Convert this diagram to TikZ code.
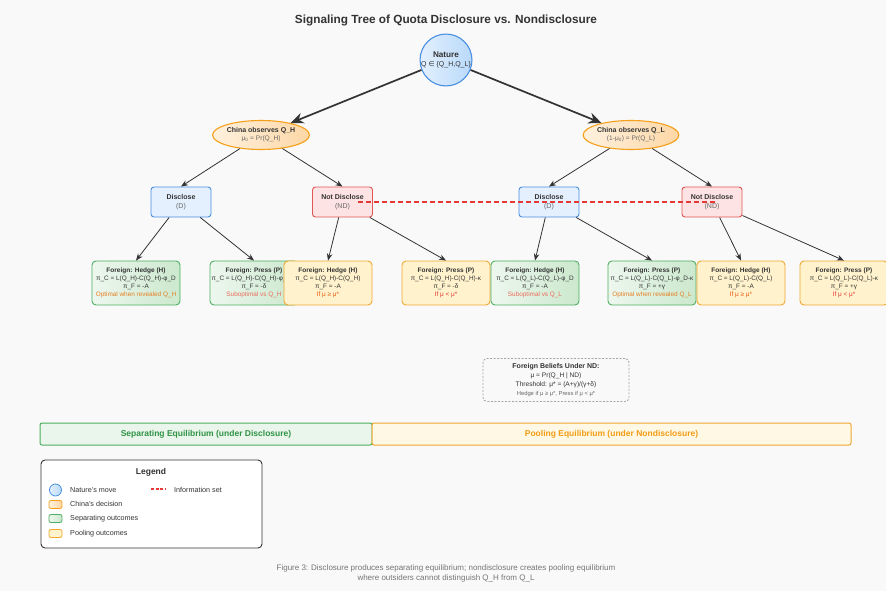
\documentclass[tikz,border=0pt]{standalone}
\usepackage{fontspec}
\setmainfont{Liberation Sans}
\newfontfamily\dejavu{DejaVu Sans}
\usetikzlibrary{arrows.meta,shapes.geometric,calc}

\definecolor{bg}{HTML}{F9F9F9}
\definecolor{txt}{HTML}{333333}
\definecolor{graytxt}{HTML}{666666}
\definecolor{natfillA}{HTML}{E3F0FE}
\definecolor{natfillB}{HTML}{B9D9FA}
\definecolor{blueline}{HTML}{4A90E2}
\definecolor{orfillA}{HTML}{FFF1DE}
\definecolor{orfillB}{HTML}{FDD7A6}
\definecolor{orline}{HTML}{F5A01A}
\definecolor{dfill}{HTML}{E4F0FD}
\definecolor{ndfill}{HTML}{FDE3E3}
\definecolor{ndline}{HTML}{E25555}
\definecolor{gfillA}{HTML}{EDF7EE}
\definecolor{gfillB}{HTML}{CBE8CD}
\definecolor{gline}{HTML}{4CAF60}
\definecolor{yfill}{HTML}{FFF2CC}
\definecolor{yline}{HTML}{F0A830}
\definecolor{infored}{HTML}{E53935}
\definecolor{optor}{HTML}{E67E22}
\definecolor{subred}{HTML}{EC6A5A}
\definecolor{ifor}{HTML}{E8590C}
\definecolor{sepfill}{HTML}{EAF5EB}
\definecolor{septxt}{HTML}{2E9445}
\definecolor{poolfill}{HTML}{FFF8E5}
\definecolor{pooltxt}{HTML}{F39C12}
\definecolor{arrowc}{HTML}{333333}

\tikzset{
  bigarrow/.style={draw=arrowc, line width=1.7pt, -{Stealth[length=13pt,width=11pt]}},
  smallarrow/.style={draw=arrowc, line width=0.8pt, -{Stealth[length=7pt,width=5.5pt]}},
  naturenode/.style={circle, draw=blueline, line width=1.1pt, inner sep=0pt, minimum size=46pt,
     left color=natfillA, right color=natfillB, align=center, text=txt, font=\fontsize{7}{8.5}\selectfont},
  chinanode/.style={ellipse, draw=orline, line width=1.1pt, inner sep=0pt, minimum width=90pt,
     minimum height=29pt, left color=orfillA, right color=orfillB, align=center, text=txt,
     font=\fontsize{7}{8.2}\selectfont},
  dnode/.style={draw=blueline, fill=dfill, line width=0.9pt, rounded corners=3pt, minimum width=60pt,
     minimum height=30pt, inner sep=0pt, align=center, text=txt, font=\fontsize{7}{9}\selectfont},
  ndnode/.style={dnode, draw=ndline, fill=ndfill},
  leafg/.style={draw=gline, left color=gfillA, right color=gfillB, line width=0.9pt, rounded corners=4pt,
     minimum width=88pt, minimum height=44pt, inner sep=0pt, align=center, text=txt,
     font=\fontsize{6.4}{8.1}\selectfont},
  leafy/.style={leafg, draw=yline, left color=yfill, right color=yfill},
  infoset/.style={draw=infored, line width=1.4pt, dash pattern=on 5pt off 3pt},
  bandsep/.style={draw=gline, fill=sepfill, line width=1pt, rounded corners=2pt, minimum height=22pt,
     inner sep=0pt, text=septxt, font=\bfseries\fontsize{8.5}{10}\selectfont},
  bandpool/.style={bandsep, draw=yline, fill=poolfill, text=pooltxt},
  legtext/.style={anchor=west, text=txt, inner sep=0pt, font=\fontsize{7.2}{8}\selectfont},
}

\newcommand\leafnode[8]{%
  \node[#2] (#1) at (#3,283) {{\bfseries\fontsize{6.5}{8.1}\selectfont #4}\\#5\\#6\\\textcolor{#8}{#7}};}

\begin{document}
\begin{tikzpicture}[x=1pt,y=-1pt]
\fill[bg] (0,0) rectangle (886,591);
\useasboundingbox (0,0) rectangle (886,591);

% title
\node[text=txt, font=\bfseries\fontsize{11.8}{14}\selectfont] (title) at (446,20) {Signaling Tree of Quota Disclosure vs. Nondisclosure};

% nature
\node[naturenode] (nature) at (446,60) {{\bfseries\fontsize{8.2}{8.5}\selectfont Nature}\\{\fontsize{7}{8}\selectfont Q {\dejavu ∈} \{Q\_H,Q\_L\}}};

% china
\node[chinanode] (chH) at (261,135) {{\bfseries China observes Q\_H}\\{\color{graytxt}\fontsize{6.6}{7}\selectfont μ\textsubscript{0} = Pr(Q\_H)}};
\node[chinanode] (chL) at (631,135) {{\bfseries China observes Q\_L}\\{\color{graytxt}\fontsize{6.6}{7}\selectfont (1-μ\textsubscript{0}) = Pr(Q\_L)}};

\draw[bigarrow] (nature) -- (chH);
\draw[bigarrow] (nature) -- (chL);

% decisions
\node[dnode] (d1) at (181,202) {\textbf{Disclose}\\{\color{graytxt}(D)}};
\node[ndnode] (nd1) at (342.5,202) {\textbf{Not Disclose}\\{\color{graytxt}(ND)}};
\node[dnode] (d2) at (549,202) {\textbf{Disclose}\\{\color{graytxt}(D)}};
\node[ndnode] (nd2) at (712,202) {\textbf{Not Disclose}\\{\color{graytxt}(ND)}};

\draw[smallarrow] (chH) -- (d1.north);
\draw[smallarrow] (chH) -- (nd1.north);
\draw[smallarrow] (chL) -- (d2.north);
\draw[smallarrow] (chL) -- (nd2.north);

% leaves
\leafnode{l1}{leafg}{136}{Foreign: Hedge (H)}{π\_C = L(Q\_H)-C(Q\_H)-φ\_D}{π\_F = -A}{Optimal when revealed Q\_H}{optor}
\leafnode{l2}{leafg}{254}{Foreign: Press (P)}{π\_C = L(Q\_H)-C(Q\_H)-φ\_D-κ}{π\_F = -δ}{Suboptimal vs Q\_H}{subred}
\leafnode{l3}{leafy}{328}{Foreign: Hedge (H)}{π\_C = L(Q\_H)-C(Q\_H)}{π\_F = -A}{If μ ≥ μ*}{ifor}
\leafnode{l4}{leafy}{446}{Foreign: Press (P)}{π\_C = L(Q\_H)-C(Q\_H)-κ}{π\_F = -δ}{If μ < μ*}{infored}
\leafnode{l5}{leafg}{535}{Foreign: Hedge (H)}{π\_C = L(Q\_L)-C(Q\_L)-φ\_D}{π\_F = -A}{Suboptimal vs Q\_L}{subred}
\leafnode{l6}{leafg}{652}{Foreign: Press (P)}{π\_C = L(Q\_L)-C(Q\_L)-φ\_D-κ}{π\_F = +γ}{Optimal when revealed Q\_L}{optor}
\leafnode{l7}{leafy}{741}{Foreign: Hedge (H)}{π\_C = L(Q\_L)-C(Q\_L)}{π\_F = -A}{If μ ≥ μ*}{ifor}
\leafnode{l8}{leafy}{844}{Foreign: Press (P)}{π\_C = L(Q\_L)-C(Q\_L)-κ}{π\_F = +γ}{If μ < μ*}{infored}

\draw[smallarrow] (d1) -- (l1.north);
\draw[smallarrow] (d1) -- (l2.north);
\draw[smallarrow] (nd1) -- (l3.north);
\draw[smallarrow] (nd1) -- (l4.north);
\draw[smallarrow] (d2) -- (l5.north);
\draw[smallarrow] (d2) -- (l6.north);
\draw[smallarrow] (nd2) -- (l7.north);
\draw[smallarrow] (nd2) -- (l8.north);

% information set
\coordinate (isA) at ($(nd1.center)+(15.5,0)$);
\coordinate (isB) at ($(nd2.center)+(5,0)$);
\draw[infoset] (isA) -- (isB);

% beliefs box
\node[draw=gray!70, dash pattern=on 2pt off 1.5pt, line width=0.8pt, rounded corners=4pt, fill=bg,
  minimum width=146pt, minimum height=43pt, inner sep=0pt, align=center, text=txt,
  font=\fontsize{6.6}{9}\selectfont] (beliefs) at (556,380)
  {{\bfseries\fontsize{7}{9}\selectfont Foreign Beliefs Under ND:}\\
   μ = Pr(Q\_H | ND)\\
   Threshold: μ* = (A+γ)/(γ+δ)\\
   {\color{graytxt}\fontsize{5.8}{9}\selectfont Hedge if μ ≥ μ*, Press if μ < μ*}};

% bands
\node[bandsep, minimum width=332pt] (sep) at (206,434) {Separating Equilibrium (under Disclosure)};
\node[bandpool, minimum width=479pt] (pool) at (611.5,434) {Pooling Equilibrium (under Nondisclosure)};

% legend
\node[draw=txt, fill=white, line width=0.9pt, rounded corners=4pt, minimum width=221pt, minimum height=88pt, inner sep=0pt] (legend) at (151.5,504) {};
\node[text=txt, font=\bfseries\fontsize{8.5}{10}\selectfont] (legtitle) at (151,472) {Legend};
\node[circle, draw=blueline, line width=0.8pt, left color=natfillA, right color=natfillB, minimum size=12pt, inner sep=0pt] (lg1) at (55.5,490) {};
\node[legtext] (lt1) at (70,490) {Nature's move};
\node[draw=orline, line width=0.8pt, left color=orfillA, right color=orfillB, rounded corners=2pt, minimum width=13pt, minimum height=8pt, inner sep=0pt] (lg2) at (55.5,504.5) {};
\node[legtext] (lt2) at (70,504) {China's decision};
\node[draw=gline, line width=0.8pt, left color=gfillA, right color=gfillB, rounded corners=2pt, minimum width=13pt, minimum height=8pt, inner sep=0pt] (lg3) at (55.5,518.5) {};
\node[legtext] (lt3) at (70,518.5) {Separating outcomes};
\node[draw=yline, line width=0.8pt, fill=yfill, rounded corners=2pt, minimum width=13pt, minimum height=8pt, inner sep=0pt] (lg4) at (55.5,533.5) {};
\node[legtext] (lt4) at (70,533.5) {Pooling outcomes};
\coordinate (lgA) at (151,489);
\coordinate (lgB) at (166,489);
\draw[infored, line width=1.2pt, dash pattern=on 3pt off 1.5pt] (lgA) -- (lgB);
\node[legtext] (lt5) at (174,490) {Information set};

% caption
\node[text=graytxt!90, align=center, font=\fontsize{8}{10}\selectfont] (caption) at (446,573)
  {Figure 3: Disclosure produces separating equilibrium; nondisclosure creates pooling equilibrium\\where outsiders cannot distinguish Q\_H from Q\_L};
\end{tikzpicture}
\end{document}
